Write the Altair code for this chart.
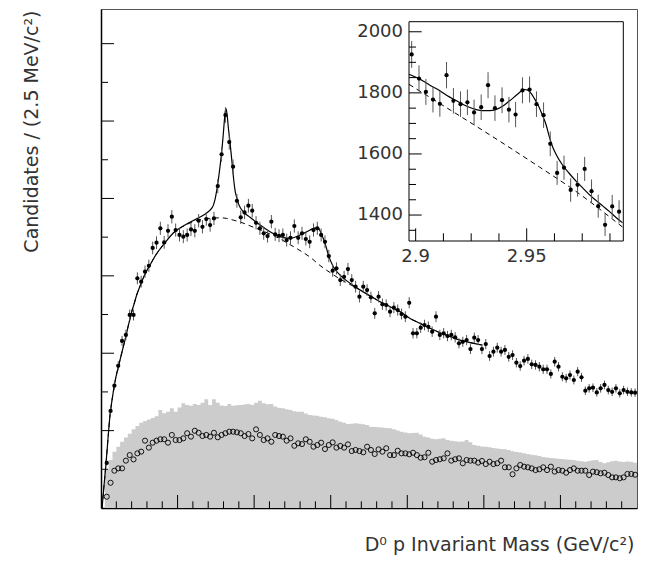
import altair as alt
import pandas as pd
import numpy as np

# ---------------- data ----------------
X_MIN, X_MAX, BIN_W = 2.80, 3.15, 0.0025

# filled points, bins 1..139 (bin 0 is empty)
signal = [291,627,790,919,1079,1118,1247,1247,1484,1462,
          1527,1565,1680,1714,1807,1716,1791,1882,1796,1764,
          1753,1764,1800,1791,1856,1817,1867,1828,1871,2080,
          2285,2539,2364,2205,1985,1878,1910,1953,1921,1843,
          1807,1775,1757,1850,1768,1759,1764,1731,1746,1822,
          1746,1775,1738,1720,1796,1807,1764,1720,1628,1533,
          1548,1473,1494,1544,1473,1430,1365,1430,1408,1361,
          1258,1365,1316,1311,1268,1294,1279,1253,1236,1326,
          1129,1129,1165,1182,1171,1139,1236,1118,1129,1111,
          1118,1103,1064,1074,1085,1027,1100,1085,1027,1059,
          982,1010,1036,1010,1021,977,988,939,917,952,
          963,928,924,913,896,896,866,945,913,848,
          838,859,827,881,844,758,773,777,747,773,
          795,762,751,773,741,762,751,747,745]

# open circles, bins 1..139
sideband = [73,163,241,256,256,306,342,314,353,364,
            435,390,422,435,444,444,422,472,439,439,
            450,483,461,499,486,465,472,461,486,457,
            472,483,493,493,489,483,465,478,450,508,
            472,439,450,428,472,465,461,435,450,402,
            418,413,444,428,396,407,422,381,407,424,
            390,401,390,411,368,375,368,360,396,375,
            349,379,364,386,342,342,370,353,353,347,
            357,342,325,328,357,299,310,315,321,353,
            306,315,321,289,310,306,306,293,304,284,
            299,284,289,306,263,263,218,256,278,267,
            263,256,245,250,263,245,267,235,245,241,
            228,245,256,241,241,241,213,235,231,224,
            228,213,198,198,192,198,220,220,215]

# grey histogram, bins 1..139
wrong_sign = [250,310,364,396,428,455,480,508,530,550,
              562,572,582,592,633,612,622,644,622,650,
              676,665,660,672,665,680,702,665,702,680,
              662,659,672,661,664,665,668,672,665,680,
              693,676,670,672,655,648,644,638,633,625,
              622,622,610,601,598,596,590,586,580,576,
              568,558,551,543,545,547,544,541,536,525,
              523,521,520,517,515,508,500,493,488,483,
              485,486,475,461,455,447,444,447,450,440,
              435,432,428,430,439,425,407,402,398,396,
              392,388,385,382,379,374,367,362,358,353,
              349,344,341,336,330,326,323,321,318,316,
              314,312,310,306,302,299,303,308,310,298,
              289,295,302,306,300,298,300,299,293]

# total fit (solid) and background (dashed), main panel
fit_m = [2.8007,2.8020,2.8033,2.8046,2.8059,2.8075,2.8091,2.8108,2.8124,2.8137,
         2.8150,2.8163,2.8176,2.8189,2.8202,2.8216,2.8233,2.8255,2.8276,2.8298,
         2.8320,2.8342,2.8364,2.8385,2.8429,2.8472,2.8516,2.8560,2.8603,2.8647,
         2.8690,2.8712,2.8734,2.8745,2.8756,2.8766,2.8777,2.8788,2.8799,2.8807,
         2.8815,2.8823,2.8831,2.8843,2.8854,2.8864,2.8875,2.8886,2.8897,2.8911,
         2.8929,2.8973,2.9039,2.9104,2.9169,2.9234,2.9300,2.9344,2.9387,2.9415,
         2.9442,2.9463,2.9485,2.9517,2.9561,2.9626,2.9692,2.9757,2.9822,2.9888,
         2.9953,3.0018,3.0084,3.0149,3.0214,3.0280,3.0345,3.0410,3.0489]
fit_n = [0,149,291,452,601,717,814,891,956,1008,
         1059,1111,1169,1221,1273,1318,1376,1434,1486,1531,
         1570,1609,1644,1673,1728,1777,1809,1835,1857,1880,
         1906,1925,1957,1996,2054,2119,2205,2300,2421,2519,
         2582,2545,2463,2358,2248,2145,2054,2006,1968,1938,
         1914,1878,1828,1785,1753,1742,1764,1785,1807,1811,
         1764,1710,1634,1559,1505,1452,1408,1370,1333,1300,
         1268,1225,1193,1161,1132,1107,1085,1069,1053]

bkg_m = [2.8007,2.8020,2.8033,2.8046,2.8059,2.8075,2.8091,2.8108,2.8124,2.8137,
         2.8150,2.8163,2.8176,2.8189,2.8202,2.8216,2.8233,2.8255,2.8276,2.8298,
         2.8320,2.8342,2.8364,2.8385,2.8429,2.8472,2.8516,2.8560,2.8603,2.8647,
         2.8690,2.8734,2.8777,2.8821,2.8864,2.8908,2.8973,2.9039,2.9104,2.9169,
         2.9234,2.9300,2.9365,2.9430,2.9496,2.9561,2.9626,2.9692,2.9757,2.9822,
         2.9888,2.9953,3.0018,3.0084,3.0149,3.0214,3.0280,3.0345,3.0410,3.0489]
bkg_n = [0,149,291,452,601,717,814,891,956,1008,
         1059,1111,1169,1221,1273,1318,1376,1434,1486,1531,
         1570,1609,1644,1673,1728,1777,1809,1831,1851,1864,
         1870,1873,1875,1871,1860,1848,1823,1797,1770,1739,
         1702,1663,1621,1567,1521,1479,1444,1408,1370,1333,
         1300,1268,1225,1193,1161,1132,1107,1085,1069,1053]

# inset (values read on the inset's own axes)
inset_x = [2.8982,2.9015,2.9046,2.9078,2.9109,2.9139,2.9170,2.9202,2.9233,2.9263,
           2.9295,2.9326,2.9357,2.9389,2.9420,2.9450,2.9481,2.9513,2.9544,2.9576,
           2.9606,2.9637,2.9668,2.9698,2.9729,2.9761,2.9792,2.9822,2.9853,2.9885,2.9916]
inset_y = [1926,1847,1803,1778,1764,1858,1774,1763,1769,1736,
           1753,1825,1750,1776,1745,1729,1808,1811,1763,1727,
           1633,1538,1555,1482,1499,1551,1478,1429,1368,1428,1411]
inset_fit_x = [2.8970,2.9019,2.9064,2.9109,2.9139,2.9184,2.9214,2.9244,2.9273,2.9303,
               2.9333,2.9363,2.9393,2.9423,2.9453,2.9475,2.9490,2.9505,2.9520,2.9535,
               2.9550,2.9573,2.9588,2.9602,2.9617,2.9632,2.9662,2.9692,2.9722,2.9752,
               2.9782,2.9812,2.9842,2.9872,2.9901,2.9931]
inset_fit_y = [1861,1845,1825,1807,1792,1774,1762,1752,1745,1742,
               1742,1746,1757,1774,1792,1805,1811,1809,1798,1781,
               1762,1723,1694,1656,1623,1599,1563,1536,1511,1489,
               1467,1448,1430,1412,1393,1375]
inset_bkg_x = [2.8970,2.9109,2.9259,2.9408,2.9558,2.9707,2.9931]
inset_bkg_y = [1828,1765,1697,1628,1557,1485,1361]

INSET_XDOM = [2.897, 2.9935]
INSET_YDOM = [1315, 2033]
inset_ylabels = [1400, 1600, 1800, 2000]
inset_yminor = [1350,1450,1500,1550,1650,1700,1750,1850,1900,1950]
inset_xlabels = [2.90, 2.95]
inset_xtext = ["2.9", "2.95"]
inset_xminor = [2.9125,2.925,2.9375,2.9625,2.975,2.9875]

main_x_major = [2.85, 2.90, 2.95, 3.00, 3.05, 3.10]
main_x_minor = [round(2.80 + 0.01 * k, 2) for k in range(1, 35) if k % 5 != 0]
main_y_major = [500, 1000, 1500, 2000, 2500, 3000]
main_y_minor = [250, 750, 1250, 1750, 2250, 2750]

XT = "D\u2070 p Invariant Mass (GeV/c\u00b2)"
YT = "Candidates / (2.5 MeV/c\u00b2)"
FONT = "DejaVu Sans"
TXT = "#333333"
FS = 19

# ---------------- tables ----------------
idx = np.arange(1, 140)
centers = X_MIN + BIN_W * idx + BIN_W / 2
edges = list(X_MIN + BIN_W * idx) + [X_MAX]
hist = pd.DataFrame({"x0": edges, "g": wrong_sign + [wrong_sign[-1]]})
sig = pd.DataFrame({"m": centers, "n": signal})
sig["lo"] = sig["n"] - np.sqrt(sig["n"])
sig["hi"] = sig["n"] + np.sqrt(sig["n"])
sb = pd.DataFrame({"m": centers, "n": sideband})
fit = pd.DataFrame({"m": fit_m, "n": fit_n})
bkg = pd.DataFrame({"m": bkg_m, "n": bkg_n})

ins = pd.DataFrame({"x": inset_x, "y": inset_y})
ins["lo"] = ins["y"] - np.sqrt(ins["y"])
ins["hi"] = ins["y"] + np.sqrt(ins["y"])
ins_fit = pd.DataFrame({"x": inset_fit_x, "y": inset_fit_y})
ins_bkg = pd.DataFrame({"x": inset_bkg_x, "y": inset_bkg_y})

# ---------------- scales / axes ----------------
W, H = 536, 499
MX = alt.Scale(domain=[X_MIN, X_MAX], nice=False, zero=False)
MY = alt.Scale(domain=[0, 3224], nice=False, zero=False)
AX_X = alt.Axis(title=XT, labels=False, ticks=False, grid=False, domain=True,
                domainColor="black", domainWidth=1.5,
                titleFont=FONT, titleFontSize=FS, titleFontWeight="normal",
                titleColor=TXT, titleX=533, titleY=42, titleAlign="right",
                titleBaseline="alphabetic")
AX_Y = alt.Axis(title=YT, labels=False, ticks=False, grid=False, domain=True,
                domainColor="black", domainWidth=1.5,
                titleFont=FONT, titleFontSize=FS, titleFontWeight="normal",
                titleColor=TXT, titleAngle=270, titleX=-64, titleY=1,
                titleAlign="right", titleBaseline="alphabetic")


def mx(f):
    return alt.X(f, type="quantitative", scale=MX, axis=AX_X)


def my(f):
    return alt.Y(f, type="quantitative", scale=MY, axis=AX_Y)


IX = alt.Scale(domain=INSET_XDOM, range=[308, 522.3], nice=False, zero=False)
IY = alt.Scale(domain=INSET_YDOM, range=[232, 12.7], nice=False, zero=False)


def ix(f):
    return alt.X(f, type="quantitative", scale=IX, axis=None)


def iy(f):
    return alt.Y(f, type="quantitative", scale=IY, axis=None)


# ---------------- main panel ----------------
bars = alt.Chart(hist).mark_area(color="#cccccc", opacity=1,
                                 interpolate="step-after").encode(
    x=mx("x0"), y=my("g"), y2=alt.datum(0))
bkg_line = alt.Chart(bkg).mark_line(color="black", strokeWidth=1, strokeDash=[5, 4],
                                    interpolate="monotone").encode(x=mx("m"), y=my("n"))
fit_line = alt.Chart(fit).mark_line(color="black", strokeWidth=1.2,
                                    interpolate="monotone").encode(x=mx("m"), y=my("n"))
err = alt.Chart(sig).mark_rule(color="#555555", strokeWidth=1).encode(
    x=mx("m"), y=my("lo"), y2="hi")
pts = alt.Chart(sig).mark_circle(color="black", size=18, opacity=1).encode(
    x=mx("m"), y=my("n"))
opn = alt.Chart(sb).mark_point(shape="circle", filled=False, color="black", size=26,
                               strokeWidth=0.9, opacity=1).encode(x=mx("m"), y=my("n"))

xt_major = alt.Chart(pd.DataFrame({"v": main_x_major})).mark_rule(
    color="black", strokeWidth=1).encode(x=mx("v"), y=alt.value(H), y2=alt.value(H - 13))
xt_minor = alt.Chart(pd.DataFrame({"v": main_x_minor})).mark_rule(
    color="black", strokeWidth=1).encode(x=mx("v"), y=alt.value(H), y2=alt.value(H - 6.7))
yt_major = alt.Chart(pd.DataFrame({"v": main_y_major})).mark_rule(
    color="black", strokeWidth=1).encode(y=my("v"), x=alt.value(0), x2=alt.value(13))
yt_minor = alt.Chart(pd.DataFrame({"v": main_y_minor})).mark_rule(
    color="black", strokeWidth=1).encode(y=my("v"), x=alt.value(0), x2=alt.value(7))

main = alt.layer(bars, bkg_line, fit_line, err, pts, opn,
                 xt_major, xt_minor, yt_major, yt_minor)

# ---------------- inset ----------------
frame = alt.Chart(pd.DataFrame({"x0": [INSET_XDOM[0]], "x1": [INSET_XDOM[1]],
                                "y0": [INSET_YDOM[0]], "y1": [INSET_YDOM[1]]})).mark_rect(
    fill="white", stroke="black", strokeWidth=1).encode(
    x=ix("x0"), x2="x1", y=iy("y0"), y2="y1")
i_bkg = alt.Chart(ins_bkg).mark_line(color="black", strokeWidth=1, strokeDash=[5, 4],
                                     interpolate="monotone").encode(x=ix("x"), y=iy("y"))
i_fit = alt.Chart(ins_fit).mark_line(color="black", strokeWidth=1.2,
                                     interpolate="monotone").encode(x=ix("x"), y=iy("y"))
i_err = alt.Chart(ins).mark_rule(color="#555555", strokeWidth=1).encode(
    x=ix("x"), y=iy("lo"), y2="hi")
i_pts = alt.Chart(ins).mark_circle(color="black", size=18, opacity=1).encode(
    x=ix("x"), y=iy("y"))
i_ytm = alt.Chart(pd.DataFrame({"v": inset_ylabels})).mark_rule(
    color="black", strokeWidth=1).encode(y=iy("v"), x=alt.value(308), x2=alt.value(320.7))
i_ytn = alt.Chart(pd.DataFrame({"v": inset_yminor})).mark_rule(
    color="black", strokeWidth=1).encode(y=iy("v"), x=alt.value(308), x2=alt.value(315))
i_xtm = alt.Chart(pd.DataFrame({"v": inset_xlabels})).mark_rule(
    color="black", strokeWidth=1).encode(x=ix("v"), y=alt.value(232), y2=alt.value(219.3))
i_xtn = alt.Chart(pd.DataFrame({"v": inset_xminor})).mark_rule(
    color="black", strokeWidth=1).encode(x=ix("v"), y=alt.value(232), y2=alt.value(224.3))
i_ylab = alt.Chart(pd.DataFrame({"v": inset_ylabels,
                                 "t": [str(v) for v in inset_ylabels]})).mark_text(
    font=FONT, fontSize=FS - 1, color=TXT, align="right", baseline="middle").encode(
    y=iy("v"), x=alt.value(302), text="t:N")
i_xlab = alt.Chart(pd.DataFrame({"v": inset_xlabels, "t": inset_xtext})).mark_text(
    font=FONT, fontSize=FS - 1, color=TXT, align="center", baseline="top").encode(
    x=ix("v"), y=alt.value(239), text="t:N")

inset = alt.layer(frame, i_bkg, i_fit, i_err, i_pts, i_ytm, i_ytn, i_xtm, i_xtn,
                  i_ylab, i_xlab)

chart = alt.layer(main, inset).resolve_scale(x="independent", y="independent").properties(
    width=W, height=H,
    autosize=alt.AutoSizeParams(type="none"),
    padding={"left": 93, "top": 1, "right": 1, "bottom": 47},
    background="white",
).configure_view(stroke="#555555", strokeWidth=1)

chart.save("out.html", embed_options={"renderer": "svg", "actions": False})
